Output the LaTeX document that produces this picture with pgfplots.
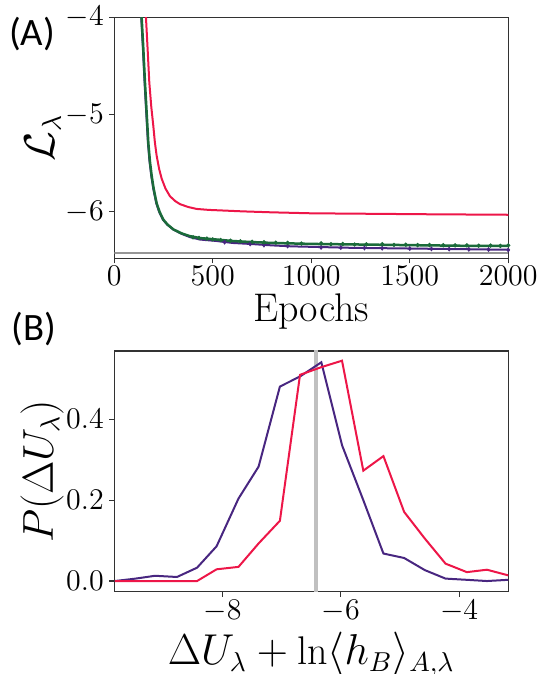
\documentclass[border=0pt]{standalone}
\usepackage{pgfplots}
\pgfplotsset{compat=1.18}
\usepackage{fontspec}
\newfontfamily\labelfont{Carlito}
\definecolor{cred}{RGB}{237,22,72}
\definecolor{cpurple}{RGB}{72,38,128}
\definecolor{cgreen}{RGB}{27,107,58}
\definecolor{cgrayA}{RGB}{150,150,150}
\definecolor{cgrayB}{RGB}{192,192,192}
\definecolor{caxis}{RGB}{50,50,50}
\pgfplotsset{
  panel/.style={
    scale only axis, anchor=south west,
    width=157.6pt,
    axis line style={caxis, line width=0.5pt},
    tick align=outside, tick pos=left,
    major tick length=2pt,
    tick style={caxis, line width=0.5pt},
    tick label style={font=\fontsize{12.4}{14}\selectfont},
    xticklabel style={inner sep=1pt},
    yticklabel style={inner xsep=2pt, inner ysep=0pt},
    label style={font=\fontsize{16}{19}\selectfont},
    scaled ticks=false,
    xticklabel style={/pgf/number format/1000 sep={}},
  }
}
\begin{document}
\begin{tikzpicture}
\path[use as bounding box] (0,0) rectangle (218.4pt,269.6pt);
\begin{axis}[panel, at={(45.7pt,166.2pt)}, height=96.4pt,
  xmin=0, xmax=2000, ymin=-6.48, ymax=-4,
  xtick={0,500,1000,1500,2000}, ytick={-6,-5,-4},
  xlabel={Epochs}, ylabel={$\mathcal{L}_\lambda$},
  xlabel style={at={(axis description cs:0.5,-0.222)}, anchor=center},
  ylabel style={at={(axis description cs:-0.181,0.5)}, anchor=center},
]
\addplot[cgrayA, line width=0.9pt] coordinates {(0,-6.42) (2000,-6.42)};
\addplot[cpurple, line width=0.8pt] coordinates {
(131,-3.85) (137,-4.00) (145,-4.30) (154,-4.67) (163,-5.00) (171,-5.29) (179,-5.48)
(188,-5.63) (198,-5.76) (213,-5.91) (228,-6.00) (247,-6.08) (268,-6.13) (298,-6.18)
(340,-6.225) (384,-6.26) (435,-6.285) (520,-6.30) (600,-6.32) (689,-6.33) (800,-6.345)
(900,-6.355) (1000,-6.36) (1200,-6.37) (1400,-6.375) (1600,-6.38) (1800,-6.385) (2000,-6.39)};
\addplot[cpurple, only marks, mark=diamond*, mark size=0.7pt] coordinates {
(560,-6.312) (690,-6.33) (760,-6.342) (880,-6.352) (1050,-6.366) (1150,-6.368) (1270,-6.372)
(1360,-6.374) (1500,-6.378) (1610,-6.381) (1700,-6.383) (1800,-6.386) (1900,-6.388) (2000,-6.392)};
\addplot[cgreen, line width=1pt] coordinates {
(133,-3.85) (139,-4.00) (147,-4.30) (156,-4.67) (165,-5.00) (173,-5.29) (181,-5.48)
(190,-5.63) (200,-5.76) (215,-5.91) (230,-6.00) (249,-6.08) (270,-6.13) (300,-6.18)
(340,-6.22) (384,-6.25) (435,-6.27) (520,-6.285) (600,-6.30) (689,-6.31) (800,-6.32)
(900,-6.325) (1000,-6.33) (1200,-6.335) (1400,-6.34) (1600,-6.345) (1800,-6.35) (2000,-6.35)};
\addplot[cgreen, only marks, mark=*, mark size=0.65pt] coordinates {
(400,-6.262) (430,-6.268) (470,-6.276) (500,-6.283) (540,-6.29) (590,-6.297) (640,-6.303)
(700,-6.308) (760,-6.313) (820,-6.317) (880,-6.32) (950,-6.326) (1050,-6.324) (1100,-6.333)
(1160,-6.331) (1220,-6.336) (1280,-6.335) (1360,-6.333) (1420,-6.34) (1480,-6.338) (1540,-6.342)
(1600,-6.341) (1670,-6.343) (1730,-6.345) (1790,-6.345) (1850,-6.348) (1910,-6.347) (1960,-6.35) (2000,-6.345)};
\addplot[cred, line width=0.8pt] coordinates {
(155,-3.8) (161,-4.00) (170,-4.35) (178,-4.67) (188,-4.92) (198,-5.11) (206,-5.28)
(215,-5.42) (228,-5.56) (241,-5.66) (260,-5.76) (283,-5.84) (310,-5.89) (333,-5.92)
(375,-5.95) (418,-5.97) (480,-5.98) (537,-5.985) (650,-5.995) (800,-6.005) (1000,-6.015)
(1300,-6.02) (1600,-6.025) (2000,-6.03)};
\end{axis}
\begin{axis}[panel, at={(45.7pt,32.9pt)}, height=96.3pt,
  xmin=-9.83, xmax=-3.17, ymin=-0.0265, ymax=0.569,
  xtick={-8,-6,-4}, ytick={0,0.2,0.4}, yticklabels={$0.0$,$0.2$,$0.4$},
  xlabel={$\Delta U_\lambda + \ln\langle h_B\rangle_{A,\lambda}$},
  ylabel={$P(\Delta U_\lambda)$},
  xlabel style={at={(axis description cs:0.5,-0.26)}, anchor=center},
  ylabel style={at={(axis description cs:-0.183,0.5)}, anchor=center},
]
\addplot[cgrayB, line width=1.3pt] coordinates {(-6.42,-0.1) (-6.42,0.7)};
\addplot[cpurple, line width=0.8pt] coordinates {
(-9.82,0.0) (-9.47,0.006) (-9.14,0.013) (-8.77,0.010) (-8.43,0.033) (-8.10,0.086)
(-7.73,0.204) (-7.39,0.283) (-7.03,0.481) (-6.69,0.506) (-6.33,0.541) (-5.98,0.336)
(-5.62,0.200) (-5.28,0.068) (-4.93,0.057) (-4.58,0.027) (-4.23,0.006) (-3.87,0.003)
(-3.53,0.0) (-3.17,0.003)};
\addplot[cred, line width=0.8pt] coordinates {
(-9.82,0.0) (-9.47,0.0) (-9.14,0.0) (-8.77,0.0) (-8.43,0.0) (-8.10,0.029)
(-7.73,0.035) (-7.39,0.093) (-7.03,0.149) (-6.69,0.510) (-6.33,0.529) (-5.98,0.545)
(-5.62,0.273) (-5.28,0.309) (-4.93,0.171) (-4.58,0.105) (-4.23,0.043) (-3.87,0.022)
(-3.53,0.028) (-3.17,0.014)};
\end{axis}
\node[font=\labelfont\fontsize{15.5}{18}\selectfont] at (12.8pt,256pt) {(A)};
\node[font=\labelfont\fontsize{15.5}{18}\selectfont] at (13.6pt,138pt) {(B)};
\end{tikzpicture}
\end{document}
